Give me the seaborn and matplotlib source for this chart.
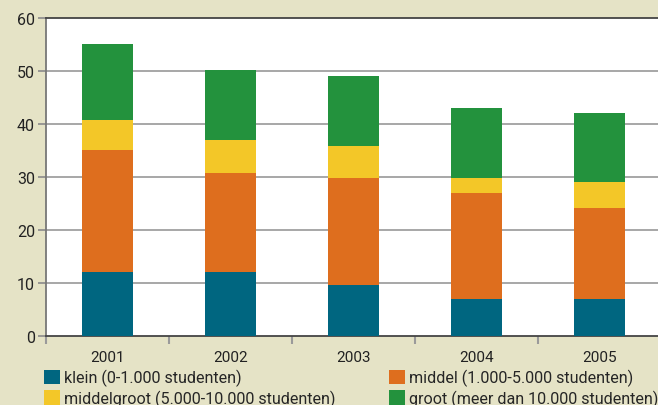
import numpy as np
import pandas as pd
import matplotlib
matplotlib.use("Agg")
import matplotlib.pyplot as plt
from matplotlib.patches import Patch
import seaborn as sns

# data
years = ["2001", "2002", "2003", "2004", "2005"]
klein = [12.0, 12.0, 9.7, 7.0, 7.0]
middel = [23.1, 18.8, 20.2, 19.9, 17.1]
middelgroot = [5.7, 6.1, 6.0, 3.0, 4.9]
groot = [14.3, 13.2, 13.2, 13.2, 13.0]

labels = ["klein (0-1.000 studenten)", "middel (1.000-5.000 studenten)",
          "middelgroot (5.000-10.000 studenten)", "groot (meer dan 10.000 studenten)"]
colors = ["#006680", "#de6e1e", "#f3c728", "#23923d"]

df = pd.DataFrame({"jaar": years, "klein": klein, "middel": middel,
                   "middelgroot": middelgroot, "groot": groot})
series = ["klein", "middel", "middelgroot", "groot"]
cum = df[series].cumsum(axis=1)

sns.set_theme(style="white")
plt.rcParams["font.family"] = ["Roboto", "DejaVu Sans"]
bg = "#e5e3c6"

fig = plt.figure(figsize=(6.58, 4.06), dpi=100, facecolor=bg)
ax = fig.add_axes([46/658, 1-337/406, 615/658, (337-19)/406])
ax.set_facecolor("white")

# stacked bars: draw cumulative totals from top down
for s, c in zip(series[::-1], colors[::-1]):
    sns.barplot(x=df["jaar"], y=cum[s], color=c, width=0.41, ax=ax,
                saturation=1, zorder=3, edgecolor="none", linewidth=0)

ax.set_ylim(0, 60)
ax.set_xlim(-0.5, 4.5)
ax.set_yticks(range(0, 61, 10))
ax.set_xlabel("")
ax.set_ylabel("")
for y in range(10, 60, 10):
    ax.axhline(y, color="#a0a0a0", lw=1.3, zorder=1)

ax.tick_params(axis="y", which="major", left=True, length=6, width=1.2,
               color="#8a8a8a", labelsize=11.5, labelcolor="#222222", pad=2)
ax.tick_params(axis="x", which="major", bottom=False, length=0, labelsize=11,
               labelcolor="#222222", pad=10)
ax.set_xticks(np.arange(-0.5, 4.6, 1.0), minor=True)
ax.tick_params(axis="x", which="minor", bottom=True, length=6, width=1.5,
               color="#9a9a9a")

for side in ["left", "bottom", "top"]:
    ax.spines[side].set_visible(True)
ax.spines["right"].set_visible(False)
ax.spines["left"].set_color("#777777")
ax.spines["left"].set_linewidth(1.3)
ax.spines["bottom"].set_color("#444444")
ax.spines["bottom"].set_linewidth(1.3)
ax.spines["top"].set_color("#444444")
ax.spines["top"].set_linewidth(1.3)

handles = [Patch(facecolor=c, edgecolor="none") for c in colors]
order = [0, 2, 1, 3]
fig.legend([handles[i] for i in order], [labels[i] for i in order],
           ncol=2, loc="upper left", bbox_to_anchor=(44/658, 1-370/406),
           frameon=False, fontsize=11.6, handlelength=1.0, handleheight=1.0,
           handletextpad=0.25, columnspacing=3.3, labelspacing=0.2,
           borderaxespad=0, borderpad=0)

fig.savefig("out.png", dpi=100, facecolor=bg)
